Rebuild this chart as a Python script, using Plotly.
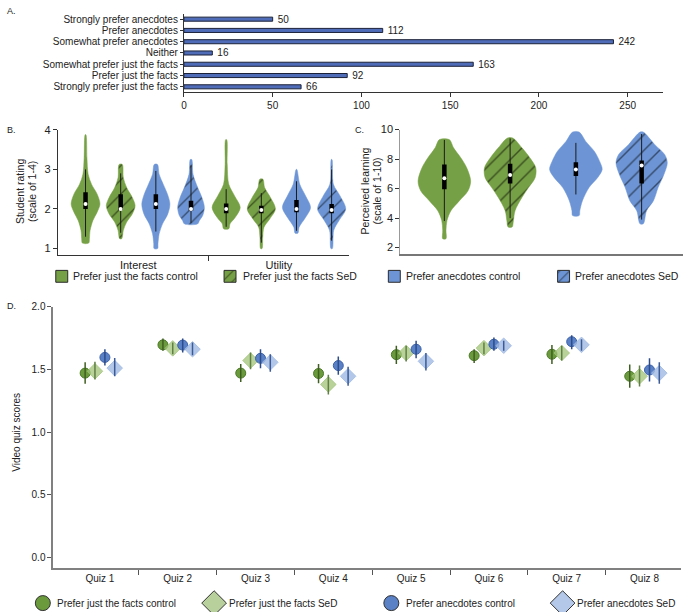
import plotly.graph_objects as go

W, H = 700, 612

# ---------------- Panel A data ----------------
pref_categories = ["Strongly prefer anecdotes", "Prefer anecdotes", "Somewhat prefer anecdotes",
                   "Neither", "Somewhat prefer just the facts", "Prefer just the facts",
                   "Strongly prefer just the facts"]
pref_counts = [50, 112, 242, 16, 163, 92, 66]
pref_ticks = [0, 50, 100, 150, 200, 250]

# ---------------- Panel B data (violin outlines: value, half-width) ----------------
b_group_labels = ["Interest", "Utility"]
b_int_gc_v = [1.14, 1.25, 1.46, 1.71, 1.92, 2.125, 2.375, 2.625, 2.875, 3.29, 3.875]
b_int_gc_w = [0.09, 0.11, 0.13, 0.21, 0.33, 0.41, 0.33, 0.17, 0.075, 0.04, 0.01]
b_int_gs_v = [1.25, 1.46, 1.67, 1.875, 2.08, 2.29, 2.54, 2.79, 3.125]
b_int_gs_w = [0.03, 0.075, 0.17, 0.33, 0.41, 0.33, 0.17, 0.075, 0.045]
b_int_bc_v = [1.0, 1.125, 1.375, 1.625, 1.875, 2.125, 2.375, 2.625, 2.875, 3.125]
b_int_bc_w = [0.05, 0.06, 0.094, 0.19, 0.34, 0.40, 0.33, 0.21, 0.094, 0.045]
b_int_bs_v = [1.625, 1.71, 1.83, 2.04, 2.29, 2.54, 2.875, 3.25]
b_int_bs_w = [0.19, 0.24, 0.33, 0.38, 0.31, 0.19, 0.057, 0.02]
b_uti_gc_v = [1.5, 1.625, 1.79, 2.04, 2.33, 2.625, 3.125, 3.75]
b_uti_gc_w = [0.075, 0.11, 0.26, 0.40, 0.24, 0.075, 0.03, 0.015]
b_uti_gs_v = [1.0, 1.29, 1.54, 1.75, 2.0, 2.29, 2.54, 2.75]
b_uti_gs_w = [0.02, 0.04, 0.075, 0.24, 0.40, 0.26, 0.094, 0.045]
b_uti_bc_v = [1.39, 1.54, 1.79, 2.04, 2.33, 2.625, 3.0]
b_uti_bc_w = [0.04, 0.075, 0.26, 0.40, 0.26, 0.094, 0.01]
b_uti_bs_v = [1.0, 1.46, 1.71, 2.0, 2.33, 2.625, 3.25]
b_uti_bs_w = [0.02, 0.06, 0.21, 0.40, 0.24, 0.05, 0.01]
# box stats: q1, median, q3, whisker low, whisker high
b_box = [
    [2.0, 2.125, 2.42, 1.3, 3.0],
    [1.975, 2.0, 2.375, 1.4, 2.9],
    [2.0, 2.125, 2.375, 1.43, 2.96],
    [1.96, 2.0, 2.21, 1.65, 3.1],
    [1.89, 2.0, 2.14, 1.55, 2.5],
    [1.89, 1.975, 2.08, 1.15, 2.4],
    [1.92, 2.0, 2.225, 1.45, 2.7],
    [1.89, 1.975, 2.125, 1.2, 3.0],
]

# ---------------- Panel C data ----------------
c_gc_v = [2.6, 3.16, 3.83, 4.5, 5.18, 5.85, 6.52, 7.41, 8.09, 8.76, 9.32]
c_gc_w = [0.025, 0.025, 0.04, 0.10, 0.23, 0.36, 0.40, 0.34, 0.25, 0.14, 0.075]
c_gs_v = [3.39, 3.83, 4.5, 5.4, 6.07, 6.74, 7.41, 8.09, 8.76, 9.43]
c_gs_w = [0.03, 0.05, 0.075, 0.18, 0.28, 0.38, 0.39, 0.30, 0.18, 0.04]
c_bc_v = [4.17, 4.5, 5.18, 6.07, 6.74, 7.3, 7.86, 8.53, 9.2, 9.83]
c_bc_w = [0.05, 0.06, 0.10, 0.20, 0.33, 0.40, 0.36, 0.28, 0.15, 0.05]
c_bs_v = [3.61, 4.5, 5.18, 6.07, 6.97, 7.75, 8.31, 8.98, 9.83]
c_bs_w = [0.025, 0.075, 0.18, 0.25, 0.34, 0.39, 0.35, 0.20, 0.025]
c_box = [
    [5.96, 6.7, 7.64, 3.8, 9.3],
    [6.34, 6.92, 7.68, 4.0, 9.4],
    [6.85, 7.3, 7.79, 5.6, 9.1],
    [6.34, 7.57, 7.9, 3.9, 9.7],
]

# ---------------- Panel D data ----------------
quiz_labels = ["Quiz 1", "Quiz 2", "Quiz 3", "Quiz 4", "Quiz 5", "Quiz 6", "Quiz 7", "Quiz 8"]
gc_mean = [1.47, 1.695, 1.47, 1.467, 1.617, 1.609, 1.62, 1.445]
gc_hi = [1.556, 1.745, 1.543, 1.543, 1.688, 1.66, 1.693, 1.538]
gc_lo = [1.385, 1.648, 1.40, 1.39, 1.543, 1.55, 1.543, 1.353]
gs_mean = [1.485, 1.667, 1.57, 1.38, 1.63, 1.669, 1.63, 1.445]
gs_hi = [1.56, 1.714, 1.635, 1.456, 1.688, 1.714, 1.688, 1.53]
gs_lo = [1.42, 1.62, 1.50, 1.30, 1.562, 1.62, 1.57, 1.364]
bc_mean = [1.595, 1.693, 1.588, 1.53, 1.66, 1.70, 1.72, 1.495]
bc_hi = [1.66, 1.745, 1.66, 1.603, 1.727, 1.753, 1.771, 1.588]
bc_lo = [1.53, 1.635, 1.508, 1.456, 1.588, 1.648, 1.66, 1.404]
bs_mean = [1.51, 1.66, 1.556, 1.445, 1.564, 1.688, 1.695, 1.47]
bs_hi = [1.59, 1.714, 1.62, 1.52, 1.63, 1.727, 1.74, 1.556]
bs_lo = [1.445, 1.612, 1.48, 1.37, 1.49, 1.648, 1.648, 1.385]

series_names = ["Prefer just the facts control", "Prefer just the facts SeD",
                "Prefer anecdotes control", "Prefer anecdotes SeD"]

# ---------------- styling ----------------
FONT = "Liberation Sans, Arial, sans-serif"
GREEN = "#76a045"
BLUE = "#6d95d5"
BAR = "#4f6cb8"

fig = go.Figure()

def px_x(x):
    return x / W

def px_y(y):
    return 1 - y / H

# ---------------- Panel A ----------------
fig.add_trace(go.Bar(
    y=pref_categories, x=pref_counts, orientation="h",
    marker=dict(color=BAR, line=dict(color="#1b2138", width=1)),
    width=0.36, text=pref_counts, texttemplate="\u2002%{x}", textposition="outside",
    constraintext="none",
    textfont=dict(size=10, color="#222", family=FONT), cliponaxis=False,
    xaxis="x", yaxis="y", showlegend=False, hoverinfo="x+y"))

# ---------------- Violin helper ----------------
def add_violin(center, vals, widths, box, color, hatched, xa, ya, hsize):
    xs = [center + w for w in widths] + [center - w for w in reversed(widths)]
    ys = list(vals) + list(reversed(vals))
    xs.append(xs[0]); ys.append(ys[0])
    kw = dict(x=xs, y=ys, mode="lines", fill="toself", fillcolor=color,
              line=dict(color=color, width=0.5, shape="spline", smoothing=0.9),
              xaxis=xa, yaxis=ya, showlegend=False, hoverinfo="skip")
    if hatched:
        kw["fillpattern"] = dict(shape="/", fgcolor="#000", bgcolor=color, size=hsize, solidity=0.13)
    fig.add_trace(go.Scatter(**kw))
    q1, med, q3, lo, hi = box
    fig.add_trace(go.Scatter(x=[center, center], y=[lo, hi], mode="lines",
                             line=dict(color="#1a1a1a", width=1), xaxis=xa, yaxis=ya,
                             showlegend=False, hoverinfo="skip"))
    fig.add_trace(go.Scatter(x=[center, center], y=[q1, q3], mode="lines",
                             line=dict(color="black", width=4.5), xaxis=xa, yaxis=ya,
                             showlegend=False, hoverinfo="skip"))
    fig.add_trace(go.Scatter(x=[center], y=[med], mode="markers",
                             marker=dict(color="white", size=4), xaxis=xa, yaxis=ya,
                             showlegend=False, hoverinfo="y"))

b_violins = [
    (b_int_gc_v, b_int_gc_w, GREEN, False),
    (b_int_gs_v, b_int_gs_w, GREEN, True),
    (b_int_bc_v, b_int_bc_w, BLUE, False),
    (b_int_bs_v, b_int_bs_w, BLUE, True),
    (b_uti_gc_v, b_uti_gc_w, GREEN, False),
    (b_uti_gs_v, b_uti_gs_w, GREEN, True),
    (b_uti_bc_v, b_uti_bc_w, BLUE, False),
    (b_uti_bs_v, b_uti_bs_w, BLUE, True),
]
for i, (v, w, col, h) in enumerate(b_violins):
    add_violin(i, v, w, b_box[i], col, h, "x2", "y2", 10)

c_violins = [
    (c_gc_v, c_gc_w, GREEN, False),
    (c_gs_v, c_gs_w, GREEN, True),
    (c_bc_v, c_bc_w, BLUE, False),
    (c_bs_v, c_bs_w, BLUE, True),
]
for i, (v, w, col, h) in enumerate(c_violins):
    add_violin(i, v, w, c_box[i], col, h, "x3", "y3", 11)

# ---------------- Panel D ----------------
offsets = [-0.19, -0.064, 0.064, 0.19]
d_series = [
    (gc_mean, gc_hi, gc_lo, "circle", 10, "#6a9a3c", "#4d7a2a", "#3f5f22"),
    (gs_mean, gs_hi, gs_lo, "diamond", 12, "rgba(160,195,120,0.75)", "rgba(160,195,120,0.75)", "#5f7f45"),
    (bc_mean, bc_hi, bc_lo, "circle", 10, "#5a80c6", "#3d62a8", "#2c4c8c"),
    (bs_mean, bs_hi, bs_lo, "diamond", 12, "rgba(160,186,228,0.8)", "rgba(160,186,228,0.8)", "#3a5a98"),
]
for k, (m, hi, lo, sym, sz, col, lcol, ecol) in enumerate(d_series):
    xs = [i + offsets[k] for i in range(len(m))]
    fig.add_trace(go.Scatter(x=xs, y=m, mode="markers",
                             marker=dict(symbol=sym, size=sz, color=col, line=dict(color=lcol, width=1)),
                             xaxis="x4", yaxis="y4", name=series_names[k], showlegend=False))
    fig.add_trace(go.Scatter(x=xs, y=m, mode="markers", marker=dict(size=1, opacity=0),
                             error_y=dict(type="data", symmetric=False,
                                          array=[h - a for h, a in zip(hi, m)],
                                          arrayminus=[a - l for l, a in zip(lo, m)],
                                          color=ecol, thickness=1.5, width=0),
                             xaxis="x4", yaxis="y4", showlegend=False, hoverinfo="skip"))

# ---------------- legends (overlay axis in pixel units) ----------------
def add_square(x0, y0, size, color, hatched):
    xs = [x0, x0 + size, x0 + size, x0, x0]
    ys = [y0, y0, y0 + size, y0 + size, y0]
    kw = dict(x=xs, y=ys, mode="lines", fill="toself", fillcolor=color,
              line=dict(color="#2a2a2a", width=1), xaxis="x5", yaxis="y5",
              showlegend=False, hoverinfo="skip")
    if hatched:
        kw["fillpattern"] = dict(shape="/", fgcolor="#000", bgcolor=color, size=7, solidity=0.15)
    fig.add_trace(go.Scatter(**kw))

add_square(53, 267, 12, GREEN, False)
add_square(222, 267, 12, GREEN, True)
add_square(387, 267, 12, BLUE, False)
add_square(557, 267, 12, BLUE, True)

leg_marks = [(40, "circle", 15, "#6a9a3c"), (212, "diamond", 19, "#b7d09c"),
             (390, "circle", 15, "#5a80c6"), (562, "diamond", 19, "#b4c8ea")]
for x, sym, sz, col in leg_marks:
    fig.add_trace(go.Scatter(x=[x], y=[603], mode="markers",
                             marker=dict(symbol=sym, size=sz, color=col, line=dict(color="#333", width=1)),
                             xaxis="x5", yaxis="y5", showlegend=False, hoverinfo="skip"))

annotations = []
def txt(x, y, s, size=10, xanchor="left", angle=0, color="#222"):
    annotations.append(dict(x=px_x(x), y=px_y(y), xref="paper", yref="paper", text=s,
                            showarrow=False, xanchor=xanchor, yanchor="middle",
                            textangle=angle, font=dict(size=size, color=color, family=FONT)))

txt(2, 5, "A.", 9)
txt(2, 125, "B.", 9)
txt(352, 125, "C.", 9)
txt(2, 303, "D.", 9)

txt(68, 273, series_names[0], 10.5)
txt(239, 273, series_names[1], 10.5)
txt(403, 273, series_names[2], 10.5)
txt(572, 273, series_names[3], 10.5)

txt(52, 603, series_names[0], 10)
txt(225, 603, series_names[1], 10)
txt(403, 603, series_names[2], 10)
txt(574, 603, series_names[3], 10)

txt(17, 187, "Student rating", 10.5, "center", -90)
txt(29, 187, "(scale of 1-4)", 10.5, "center", -90)
txt(364, 187, "Perceived learning", 10.5, "center", -90)
txt(376, 187, "(scale of 1-10)", 10.5, "center", -90)
txt(14, 430, "Video quiz scores", 10, "center", -90)

AX = "#333333"
DAX = "#808080"
fig.update_layout(
    width=W, height=H, margin=dict(l=0, r=0, t=0, b=0),
    paper_bgcolor="white", plot_bgcolor="rgba(0,0,0,0)",
    font=dict(family=FONT, size=10, color="#222"),
    showlegend=False, annotations=annotations,
    xaxis=dict(domain=[181.7 / W, 663 / W], range=[0, 270], anchor="y",
               tickvals=pref_ticks, ticks="outside", ticklen=4, tickcolor=AX,
               showline=True, linecolor=AX, linewidth=1, showgrid=False, zeroline=False,
               tickfont=dict(size=10)),
    yaxis=dict(domain=[px_y(87.3), px_y(7.6)], anchor="x", type="category",
               categoryorder="array", categoryarray=pref_categories,
               tickmode="array", tickvals=pref_categories, ticktext=pref_categories,
               range=[6.5, -0.5], ticks="outside", ticklen=3, tickcolor=AX,
               showline=True, linecolor=AX, linewidth=1, showgrid=False,
               tickfont=dict(size=10)),
    xaxis2=dict(domain=[55 / W, 347 / W], range=[-0.79, 7.48], anchor="y2",
                tickvals=[1.5, 5.5], ticktext=b_group_labels, ticks="",
                minor=dict(tickvals=[3.5], ticks="outside", ticklen=5, tickcolor=AX),
                showline=True, linecolor=AX, linewidth=1, showgrid=False, zeroline=False,
                tickfont=dict(size=11)),
    yaxis2=dict(domain=[px_y(251.7), px_y(125)], range=[0.8325, 4.0], anchor="x2",
                tickvals=[1, 2, 3, 4], ticks="outside", ticklen=4, tickcolor=AX,
                showline=True, linecolor=AX, linewidth=1, showgrid=False, zeroline=False,
                tickfont=dict(size=11)),
    xaxis3=dict(domain=[399 / W, 683 / W], range=[-0.67, 3.63], anchor="y3",
                showticklabels=False, ticks="", showline=True, linecolor="#777",
                linewidth=1.5, showgrid=False, zeroline=False),
    yaxis3=dict(domain=[px_y(250), px_y(124.8)], range=[1.597, 10], anchor="x3",
                tickvals=[2, 4, 6, 8, 10], ticks="outside", ticklen=4, tickcolor=AX,
                showline=True, linecolor="#999", linewidth=1, showgrid=False, zeroline=False,
                tickfont=dict(size=11)),
    xaxis4=dict(domain=[50.7 / W, 681 / W], range=[-0.597, 7.47], anchor="y4",
                tickvals=list(range(8)), ticktext=quiz_labels, ticks="",
                minor=dict(tickvals=[i + 0.5 for i in range(7)], ticks="outside",
                           ticklen=5, tickcolor="#555"),
                showline=True, linecolor=DAX, linewidth=2, showgrid=False, zeroline=False,
                tickfont=dict(size=10)),
    yaxis4=dict(domain=[px_y(567.3), px_y(303.5)], range=[-0.079, 2.0], anchor="x4",
                tickvals=[0, 0.5, 1.0, 1.5, 2.0], tickformat=".1f", ticks="outside",
                ticklen=4, tickcolor="#555", showline=True, linecolor=DAX, linewidth=2,
                showgrid=False, zeroline=False, tickfont=dict(size=10)),
    xaxis5=dict(domain=[0, 1], range=[0, W], anchor="y5", visible=False, fixedrange=True),
    yaxis5=dict(domain=[0, 1], range=[H, 0], anchor="x5", visible=False, fixedrange=True),
)

fig.write_html("out.html", config={"displayModeBar": False},
               post_script="document.body.style.margin='0';document.body.style.overflow='hidden';")
